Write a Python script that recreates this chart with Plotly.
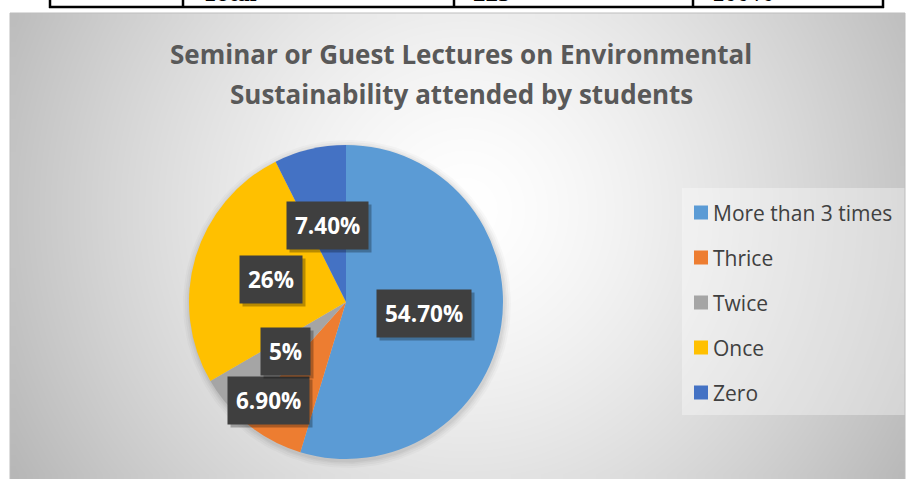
import numpy as np
import plotly.graph_objects as go

# ---- data ----
categories = ["More than 3 times", "Thrice", "Twice", "Once", "Zero"]
shares = [54.7, 6.9, 5, 26, 7.4]
value_labels = ["54.70%", "6.90%", "5%", "26%", "7.40%"]
slice_colors = ["#5B9BD5", "#ED7D31", "#A5A5A5", "#FFC000", "#4472C4"]
title_lines = ["Seminar or Guest Lectures on Environmental",
               "Sustainability attended by students"]
table_cells = ["Total", "225", "100%"]

# ---- layout constants (pixels) ----
W, H = 906, 479
PIE_CX, PIE_CY, PIE_R = 346, 302, 157
AREA = (10, 13, 905, 479)          # chart area: x0, y0, x1, y1
TABLE_COLS = [50, 183, 454, 693, 883]
# label radius as fraction of pie radius, and angle nudge (deg) per slice
label_radius = [0.5, 0.8, 0.5, 0.5, 0.5]
label_nudge = [0, 9, 0, 0, 0]

fig = go.Figure()

# radial grey background of the chart area
nx, ny = 90, 50
dx = (AREA[2] - AREA[0]) / nx
dy = (AREA[3] - AREA[1]) / ny
gx = np.linspace(AREA[0] + dx / 2, AREA[2] - dx / 2, nx)
gy = np.linspace(AREA[1] + dy / 2, AREA[3] - dy / 2, ny)
XX, YY = np.meshgrid(gx, gy)
dist = np.hypot(XX - 465, YY - 210) / 520.0
gray = 255 - 72 * np.clip(dist, 0, 1) ** 1.4
fig.add_trace(go.Heatmap(
    x=gx, y=gy, z=gray, zmin=0, zmax=255, zsmooth="best",
    colorscale=[[0, "rgb(0,0,0)"], [1, "rgb(255,255,255)"]],
    showscale=False, hoverinfo="skip"))

# soft halo around the pie
th = np.linspace(0, 2 * np.pi, 181)
for k, a in zip([7, 5, 3, 1.5], [0.025, 0.03, 0.035, 0.04]):
    fig.add_trace(go.Scatter(
        x=PIE_CX + 1 + (PIE_R + k) * np.cos(th),
        y=PIE_CY + 2 + (PIE_R + k) * np.sin(th),
        mode="lines", line=dict(width=0), fill="toself",
        fillcolor=f"rgba(0,0,0,{a})", hoverinfo="skip", showlegend=False))

# pie
fig.add_trace(go.Pie(
    labels=categories, values=shares, sort=False, direction="clockwise",
    rotation=0, marker=dict(colors=slice_colors, line=dict(width=0)),
    textinfo="none", hoverinfo="label+percent", showlegend=False,
    domain=dict(x=[(PIE_CX - PIE_R) / W, (PIE_CX + PIE_R) / W],
                y=[(H - PIE_CY - PIE_R) / H, (H - PIE_CY + PIE_R) / H])))

annotations = []
shapes = []

# value labels in dark boxes
total = sum(shares)
cum = 0.0
lab_font = dict(family="Open Sans", size=22.5, color="white", weight=700)
for i, v in enumerate(shares):
    mid = (cum + v / 2) / total * 360 + label_nudge[i]
    cum += v
    r = label_radius[i] * PIE_R
    lx = PIE_CX + r * np.sin(np.radians(mid))
    ly = PIE_CY - r * np.cos(np.radians(mid))
    common = dict(x=lx, y=ly, xref="x", yref="y", showarrow=False,
                  borderpad=8, font=lab_font, text=value_labels[i])
    annotations.append(dict(common, xshift=3, yshift=-3,
                            bgcolor="rgba(0,0,0,0.28)",
                            font=dict(lab_font, color="rgba(0,0,0,0)")))
    annotations.append(dict(common, bgcolor="#3F3F3F"))

# title
for j, line in enumerate(title_lines):
    annotations.append(dict(
        x=461, y=54 + 40 * j, xref="x", yref="y", showarrow=False,
        text=line, font=dict(family="Open Sans", size=26, color="#595959",
                             weight=700)))

# legend box and entries
shapes.append(dict(type="rect", xref="x", yref="y", x0=682, x1=905,
                   y0=188, y1=415, line=dict(width=0),
                   fillcolor="rgba(255,255,255,0.35)", layer="above"))
for i, (name, col) in enumerate(zip(categories, slice_colors)):
    yc = 212.5 + 45 * i
    shapes.append(dict(type="rect", xref="x", yref="y", x0=694, x1=708,
                       y0=yc - 7, y1=yc + 7, line=dict(width=0),
                       fillcolor=col, layer="above"))
    annotations.append(dict(
        x=711, y=yc, xref="x", yref="y", xanchor="left", showarrow=False,
        text=name, font=dict(family="Open Sans", size=21, color="#404040")))

# chart area outline
shapes.append(dict(type="rect", xref="x", yref="y", x0=AREA[0], x1=AREA[2],
                   y0=AREA[1], y1=AREA[3] + 2,
                   line=dict(width=1, color="#BDBDBD"), layer="above"))

# fragment of the table above the chart
shapes.append(dict(type="line", xref="x", yref="y", x0=TABLE_COLS[0] - 1,
                   x1=TABLE_COLS[-1] + 1, y0=7, y1=7,
                   line=dict(width=2.5, color="black"), layer="above"))
for cx in TABLE_COLS:
    shapes.append(dict(type="line", xref="x", yref="y", x0=cx, x1=cx,
                       y0=-2, y1=8, line=dict(width=2.5, color="black"),
                       layer="above"))
for c0, txt in zip(TABLE_COLS[1:4], table_cells):
    annotations.append(dict(
        x=c0 + 17, y=8, xref="x", yref="y", xanchor="left", yanchor="bottom",
        showarrow=False, text=txt,
        font=dict(family="Liberation Serif", size=25, color="black",
                  weight=700)))

fig.update_layout(
    width=W, height=H, margin=dict(l=0, r=0, t=0, b=0),
    paper_bgcolor="white", plot_bgcolor="white",
    xaxis=dict(range=[0, W], visible=False, fixedrange=True),
    yaxis=dict(range=[H, 0], visible=False, fixedrange=True),
    showlegend=False, annotations=annotations, shapes=shapes)

fig.write_html("out.html")
